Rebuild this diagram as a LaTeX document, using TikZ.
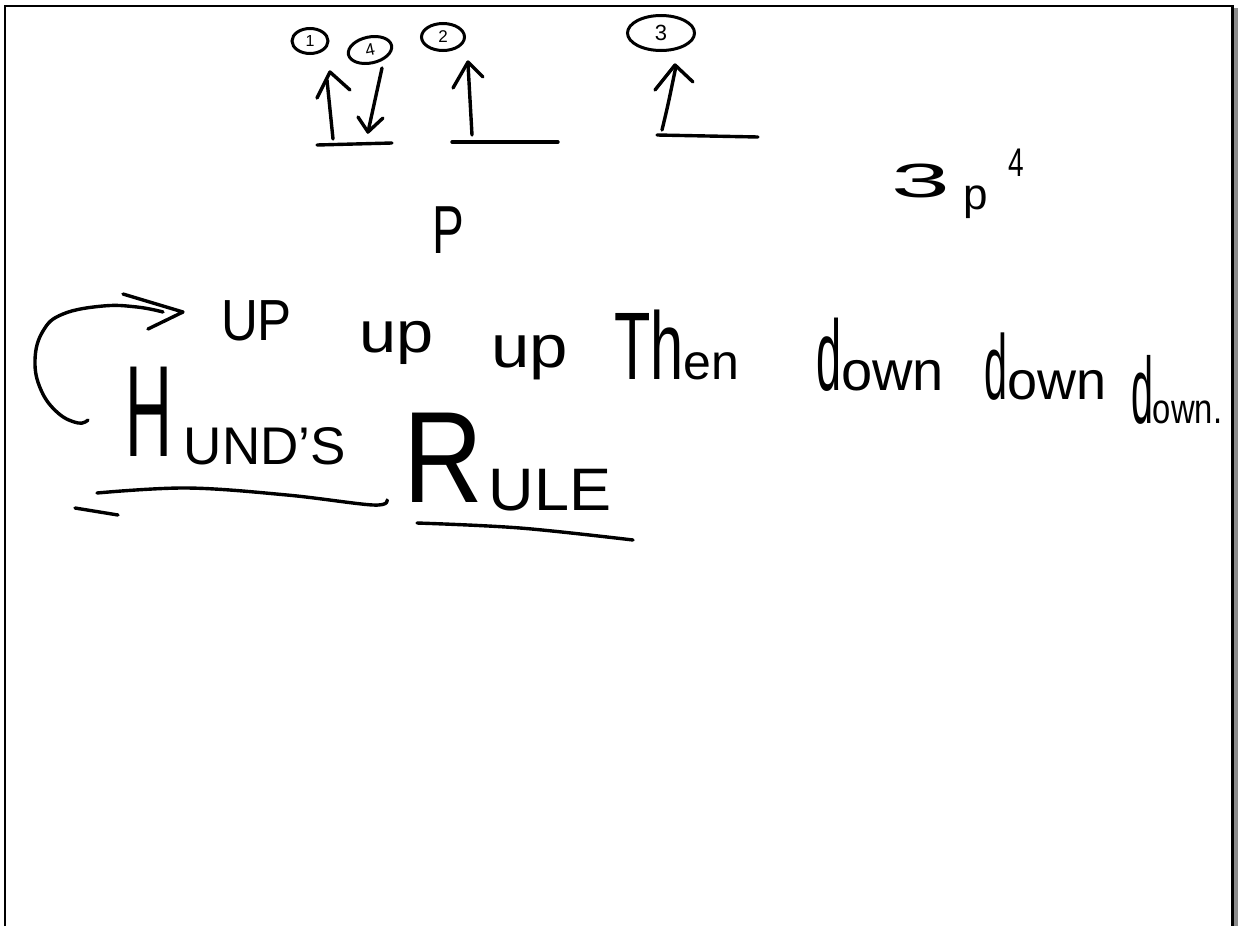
\documentclass[tikz,border=0pt]{standalone}
\usepackage{fontspec}
\setmainfont{Liberation Sans}
\usetikzlibrary{shapes.geometric}
\newcommand{\hfs}[1]{\fontsize{#1}{#1}\selectfont}
\tikzset{
  ink/.style={line width=3.4pt, line cap=round, line join=round},
  word/.style={anchor=base west, inner sep=0pt, outer sep=0pt},
  badge/.style={ellipse, draw, line width=3pt, inner sep=0pt},
}
\begin{document}
\begin{tikzpicture}[x=1pt,y=-1pt]
\useasboundingbox (0,0) rectangle (1238,926);
\fill[white] (0,0) rectangle (1238,926);
% frame
\fill[black!45] (1233.5,8) rectangle (1238,926);
\draw[line width=2.2pt] (5,926) -- (5,6) -- (1232.5,6) -- (1232.5,926);

% circled numbers
\node[badge, minimum width=36pt, minimum height=25pt, font=\hfs{16}] (b1) at (310,41) {1};
\node[badge, minimum width=44pt, minimum height=26pt, rotate=12, font=\hfs{17}] (b4) at (370,50) {4};
\node[badge, minimum width=43pt, minimum height=27pt, font=\hfs{17}] (b2) at (443,37) {2};
\node[badge, minimum width=67pt, minimum height=35pt, font=\hfs{22}] (b3) at (661,33) {3};

% orbital boxes (lines) and spins
\draw[ink] (317,145) -- (392,143);
\draw[ink] (452,142) -- (558,142);
\draw[ink] (657,135) -- (758,137);
% up arrow 1
\draw[ink] (333,139) -- (327,80);
\draw[ink] (317,98) -- (330,72) -- (350,90);
% down arrow 4
\draw[ink] (382,68) -- (368,132);
\draw[ink] (358,117) -- (368,132) -- (383,118);
% up arrow 2
\draw[ink] (472,135) -- (468,64);
\draw[ink] (453,88) -- (468,62) -- (483,77);
% up arrow 3
\draw[ink] (662,130) .. controls (668,105) .. (676,66);
\draw[ink] (655,90) -- (675,65) -- (693,82);

% labels
\node[word, font=\hfs{68}] (porb) at (432,253) {\scalebox{0.7}[1]{P}};
\node[word, font=\hfs{48}] (config) at (891,197) {\scalebox{2.2}[1]{3}\hspace{14pt}\raisebox{-12pt}{\hfs{44}p}\hspace{20pt}\raisebox{21pt}{\hfs{40}\scalebox{0.7}[1]{4}}};

% sentence
\node[word, font=\hfs{58}] (w1) at (221,340) {\scalebox{0.88}[1]{UP}};
\node[word, font=\hfs{58}] (w2) at (359,352) {\scalebox{1.15}[1]{up}};
\node[word, font=\hfs{60}] (w3) at (491,367) {\scalebox{1.15}[1]{up}};
\node[word] (w4) at (614,379) {\hfs{96}\scalebox{0.62}[1]{Th}\hfs{50}en};
\node[word] (w5) at (816,390) {\hfs{100}\scalebox{0.45}[1]{d}\hfs{56}own};
\node[word] (w6) at (984,399) {\hfs{92}\scalebox{0.45}[1]{d}\hfs{54}own};
\node[word] (w7) at (1131,423) {\hfs{94}\scalebox{0.42}[1]{d}\hfs{42}\scalebox{0.78}[1]{own.}};

% title
\node[word] (hund) at (125,456) {\hfs{130}\scalebox{0.5}[1]{H}\hspace{12pt}\hfs{53}\raisebox{-8pt}{UND'S}};
\node[word] (rule) at (403,502) {\hfs{130}\scalebox{0.85}[1]{R}\hspace{6pt}\hfs{60}\raisebox{-8pt}{\scalebox{1.05}[1]{ULE}}};

% curved arrow from the title to the sentence
\coordinate (cs) at (88,420);
\coordinate (ce) at (183,312);
\draw[ink] plot[smooth, tension=0.7] coordinates {(cs) (78,423) (58,413) (41,390) (35,360) (43,331) (63,314) (103,306) (137,307) (163,312)};
\draw[ink] (123,294) -- (ce) -- (148,329);

% underlines
\draw[ink] plot[smooth, tension=0.6] coordinates {(97,493) (187,488) (287,495) (373,505) (387,500)};
\draw[ink] (75,508) -- (118,515);
\draw[ink] plot[smooth, tension=0.6] coordinates {(417,523) (520,528) (633,540)};
\end{tikzpicture}
\end{document}
